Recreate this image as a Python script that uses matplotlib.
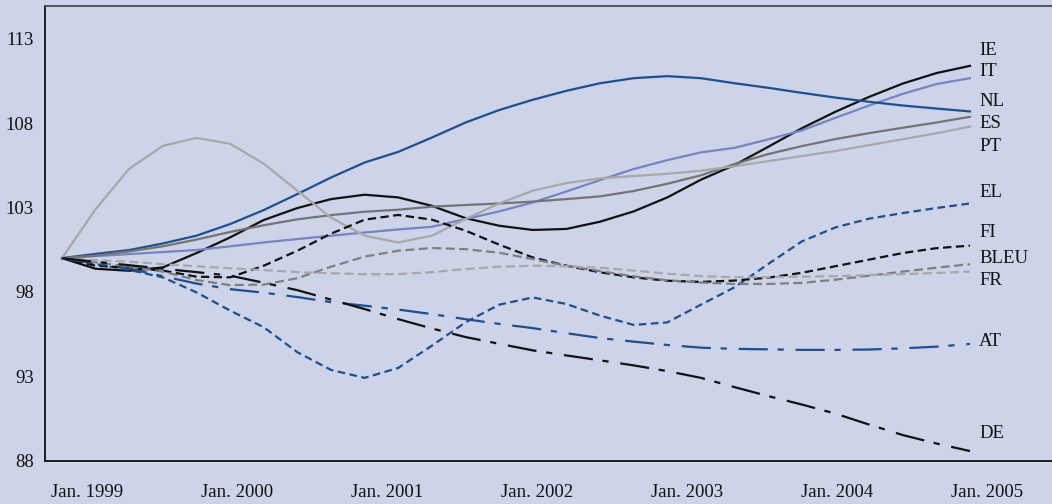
import numpy as np
import matplotlib
matplotlib.use("Agg")
import matplotlib.pyplot as plt

plt.rcParams['font.family'] = ['Liberation Serif', 'DejaVu Serif']
plt.rcParams['lines.scale_dashes'] = False

# 28 observations, Jan. 1999 - Jan. 2005
tick_labels = ["Jan. 1999", "Jan. 2000", "Jan. 2001", "Jan. 2002",
               "Jan. 2003", "Jan. 2004", "Jan. 2005"]

IE = [100, 99.37, 99.25, 99.45, 100.3, 101.23, 102.26, 102.97, 103.5, 103.76,
      103.6, 103.1, 102.37, 101.92, 101.67, 101.73, 102.16, 102.77, 103.6, 104.65,
      105.52, 106.6, 107.7, 108.68, 109.56, 110.35, 110.97, 111.4]
IT = [100, 100.12, 100.24, 100.36, 100.48, 100.7, 100.93, 101.13, 101.33, 101.52,
      101.7, 101.86, 102.32, 102.77, 103.3, 103.95, 104.63, 105.28, 105.81, 106.27,
      106.54, 107.04, 107.57, 108.32, 109.05, 109.74, 110.32, 110.67]
NL = [100, 100.25, 100.48, 100.87, 101.33, 102.02, 102.85, 103.8, 104.78, 105.67,
      106.3, 107.15, 108.04, 108.78, 109.39, 109.92, 110.37, 110.67, 110.79, 110.67,
      110.37, 110.1, 109.8, 109.52, 109.27, 109.05, 108.87, 108.7]
ES = [100, 100.15, 100.4, 100.7, 101.1, 101.55, 101.95, 102.3, 102.55, 102.75,
      102.87, 103.05, 103.15, 103.24, 103.35, 103.5, 103.66, 103.98, 104.41, 104.91,
      105.58, 106.17, 106.64, 107.06, 107.41, 107.73, 108.04, 108.38]
PT = [100, 102.9, 105.3, 106.66, 107.13, 106.78, 105.6, 104.0, 102.4, 101.33,
      100.93, 101.33, 102.32, 103.24, 104.0, 104.45, 104.73, 104.87, 105.0, 105.18,
      105.45, 105.75, 106.05, 106.35, 106.7, 107.05, 107.4, 107.8]
EL = [100, 99.65, 99.3, 98.86, 97.97, 96.89, 95.9, 94.42, 93.37, 92.9,
      93.49, 94.81, 96.19, 97.24, 97.67, 97.28, 96.59, 96.04, 96.19, 97.24,
      98.27, 99.65, 100.99, 101.82, 102.34, 102.67, 102.97, 103.24]
FI = [100, 99.55, 99.43, 99.26, 98.9, 98.86, 99.55, 100.44, 101.45, 102.28,
      102.56, 102.28, 101.63, 100.8, 100.04, 99.55, 99.16, 98.86, 98.66, 98.59,
      98.67, 98.84, 99.13, 99.52, 99.91, 100.3, 100.59, 100.74]
BLEU = [100, 99.75, 99.49, 99.2, 98.7, 98.4, 98.43, 98.81, 99.49, 100.09,
        100.44, 100.6, 100.53, 100.32, 99.94, 99.55, 99.23, 98.92, 98.69, 98.55,
        98.47, 98.47, 98.53, 98.72, 98.96, 99.2, 99.43, 99.64]
FR = [100, 99.88, 99.79, 99.64, 99.52, 99.4, 99.29, 99.17, 99.1, 99.05,
      99.05, 99.17, 99.35, 99.49, 99.55, 99.52, 99.43, 99.26, 99.08, 98.93,
      98.87, 98.87, 98.9, 98.93, 98.99, 99.05, 99.12, 99.2]
AT = [100, 99.67, 99.37, 98.93, 98.49, 98.16, 97.95, 97.69, 97.39, 97.18,
      96.95, 96.68, 96.38, 96.1, 95.85, 95.55, 95.26, 95.05, 94.85, 94.69,
      94.62, 94.59, 94.56, 94.56, 94.58, 94.65, 94.75, 94.91]
DE = [100, 99.78, 99.58, 99.37, 99.17, 98.96, 98.54, 98.1, 97.54, 96.98,
      96.38, 95.83, 95.32, 94.92, 94.53, 94.23, 93.94, 93.64, 93.3, 92.9,
      92.35, 91.82, 91.32, 90.78, 90.13, 89.51, 89.01, 88.56]

blue = '#1f4f8d'
black = '#111111'
series = [
    ("IE", IE, black, '-'),
    ("IT", IT, '#7685bf', '-'),
    ("NL", NL, blue, '-'),
    ("ES", ES, '#747474', '-'),
    ("PT", PT, '#a8a8a8', '-'),
    ("EL", EL, blue, (0, (5.5, 3.2))),
    ("FI", FI, black, (0, (6.0, 3.2))),
    ("BLEU", BLEU, '#7f7f7f', (0, (6.5, 3.2))),
    ("FR", FR, '#a8a8a8', (0, (6.5, 3.2))),
    ("AT", AT, blue, (0, (21.0, 7.0, 4.5, 8.5))),
    ("DE", DE, black, (0, (21.0, 7.0, 4.5, 8.5))),
]
# label heights at the right end of the lines
label_y = [112.3, 111.05, 109.3, 108.0, 106.6, 103.9, 101.5, 100.0, 98.7, 95.05, 89.6]

bg = '#cdd3e8'
fig = plt.figure(figsize=(10.52, 5.04), dpi=100, facecolor=bg)
ax = fig.add_axes([45 / 1052, 43.5 / 504, 1007 / 1052, 454.5 / 504])
ax.set_facecolor(bg)

x = np.arange(len(IE))
for (name, vals, col, ls), ly in zip(series, label_y):
    ax.plot(x, vals, color=col, linestyle=ls, linewidth=1.6)
    ax.text(27.27, ly, name, ha='left', va='center', fontsize=13.5, color='#111111')

ax.set_xlim(-0.505, 29.44)
ax.set_ylim(88, 114.95)
ax.set_yticks([88, 93, 98, 103, 108, 113])
ax.set_xticks([0.74 + 4.46 * k for k in range(len(tick_labels))])
ax.set_xticklabels(tick_labels)
ax.tick_params(axis='both', length=0, labelsize=13.5, colors='#111111')
ax.tick_params(axis='y', pad=8)
ax.tick_params(axis='x', pad=17)

ax.spines['right'].set_visible(False)
ax.spines['left'].set_color('#111111')
ax.spines['left'].set_linewidth(1.3)
ax.spines['bottom'].set_color('#111111')
ax.spines['bottom'].set_linewidth(1.3)
ax.spines['top'].set_color('#4a4a55')
ax.spines['top'].set_linewidth(1.3)

fig.savefig('out.png', dpi=100, facecolor=bg)
